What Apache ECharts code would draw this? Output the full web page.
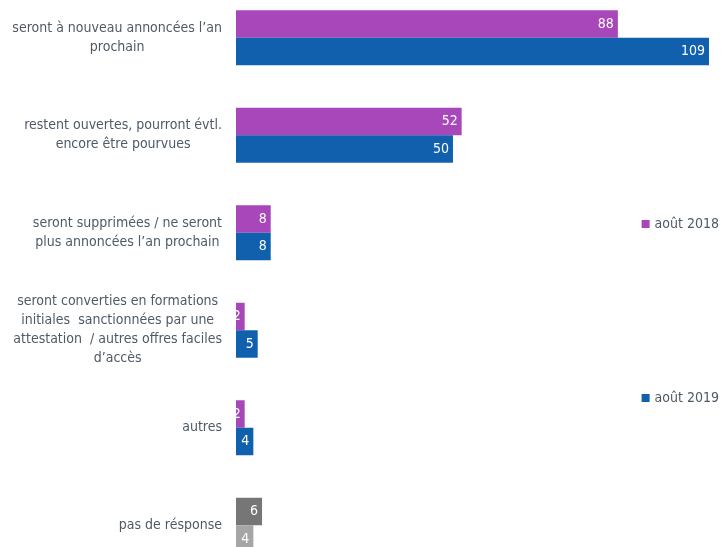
<!DOCTYPE html>
<html><head><meta charset="utf-8">
<script src="https://cdn.jsdelivr.net/npm/echarts@6/dist/echarts.min.js"></script>
<style>html,body{margin:0;padding:0;background:#fff;overflow:hidden;width:724px;height:547px;position:relative}#c{position:absolute;left:0;top:-11px;width:724px;height:585px}</style>
</head><body><div id="c"></div>
<script>
const categories = [
  "seront à nouveau annoncées l’an\nprochain",
  "restent ouvertes, pourront évtl.\nencore être pourvues",
  "seront supprimées / ne seront\nplus annoncées l’an prochain",
  "seront converties en formations\ninitiales  sanctionnées par une\nattestation  / autres offres faciles\nd’accès",
  "autres",
  "pas de résponse"
];
const seriesNames = ["août 2018", "août 2019"];
const values2018 = [88, 52, 8, 2, 2, 6];
const values2019 = [109, 50, 8, 5, 4, 4];

const FONT = '"DejaVu Sans Condensed", "Liberation Sans Narrow", "Noto Sans", sans-serif';
const C18 = '#a847b9', C19 = '#1060ae', G18 = '#767676', G19 = '#a6a6a6';

function mk(vals, col, lastCol) {
  return vals.map((v, i) => i === vals.length - 1 ? {value: v, itemStyle: {color: lastCol}} : v);
}
const lbl = {show: true, position: 'insideRight', distance: 4, color: '#fff', fontSize: 14, fontFamily: FONT};

const chart = echarts.init(document.getElementById('c'));
chart.setOption({
  animation: false,
  grid: {left: 236, right: 15, top: 0, bottom: 0, containLabel: false},
  xAxis: {type: 'value', min: 0, max: 109, show: false},
  yAxis: {
    type: 'category', inverse: true, data: categories,
    axisLine: {show: false}, axisTick: {show: false},
    axisLabel: {
      margin: 14, color: '#4f5a66', fontSize: 14, fontFamily: FONT, lineHeight: 19,
      formatter: v => v.split('\n').map(l => '{c|' + l + '}').join('\n'),
      rich: {c: {align: 'center', color: '#4f5a66', fontSize: 14, fontFamily: FONT, lineHeight: 19}}
    }
  },
  legend: {
    orient: 'vertical', right: 0, top: 223, itemGap: 160,
    itemWidth: 8, itemHeight: 8, icon: 'rect',
    textStyle: {color: '#4f5a66', fontSize: 14, fontFamily: FONT},
    data: seriesNames
  },
  series: [
    {name: seriesNames[0], type: 'bar', barWidth: 27.5, barGap: '0%', itemStyle: {color: C18}, label: lbl, data: mk(values2018, C18, G18)},
    {name: seriesNames[1], type: 'bar', barWidth: 27.5, barGap: '0%', itemStyle: {color: C19}, label: lbl, data: mk(values2019, C19, G19)}
  ]
});
</script></body></html>
